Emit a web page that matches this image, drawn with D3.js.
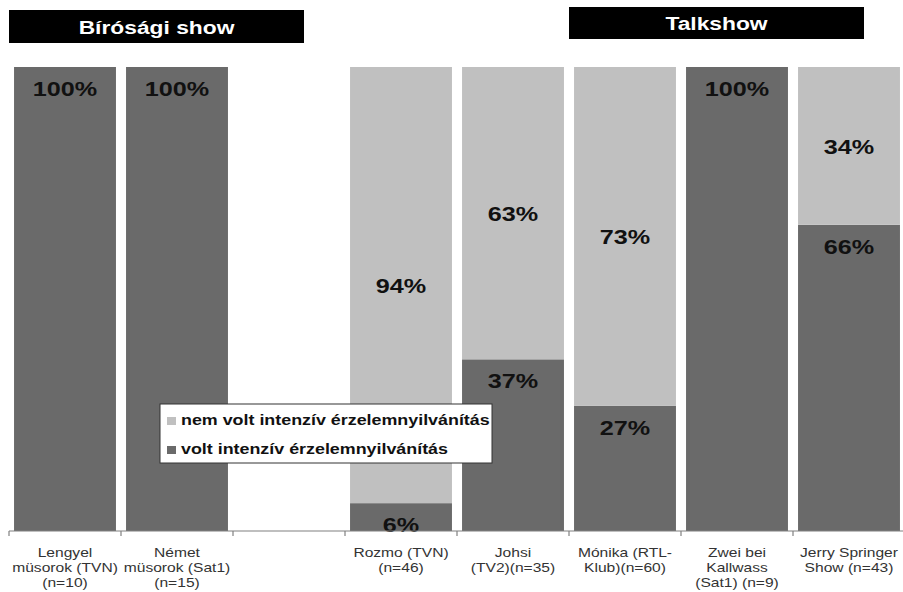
<!DOCTYPE html>
<html><head><meta charset="utf-8">
<script src="https://cdn.jsdelivr.net/npm/d3@7"></script>
<style>body{margin:0;background:#fff}svg{display:block}text{font-family:Arial,"Liberation Sans",sans-serif}</style>
</head><body><svg id="c" width="903" height="592"></svg>
<script>
const categories = ["c1","c2","c3","c4","c5","c6","c7","c8"];
const categoryLabels = [
  ["Lengyel","müsorok (TVN)","(n=10)"],
  ["Német","müsorok (Sat1)","(n=15)"],
  [],
  ["Rozmo (TVN)","(n=46)"],
  ["Johsi","(TV2)(n=35)"],
  ["Mónika (RTL-","Klub)(n=60)"],
  ["Zwei bei","Kallwass","(Sat1) (n=9)"],
  ["Jerry Springer","Show (n=43)"]
];
const voltValues = [100,100,null,6,37,27,100,66];
const nemVoltValues = [0,0,null,94,63,73,0,34];
const seriesNames = ["nem volt intenzív érzelemnyilvánítás","volt intenzív érzelemnyilvánítás"];
const groupTitles = ["Bírósági show","Talkshow"];

const svg = d3.select("#c");
const SX = 1.2;
const dark = "#6a6a6a", light = "#c0c0c0";

const x = d3.scaleBand().domain(categories).range([9,905]).paddingInner(0.09).paddingOuter(0.045);
const y = d3.scaleLinear().domain([0,100]).range([531,67]);

function stext(g, tx, ty, str, size, weight, fill, anchor){
  return g.append("g").attr("transform",`translate(${tx},${ty}) scale(${SX},1)`)
    .append("text").attr("text-anchor",anchor||"middle").attr("font-size",size)
    .attr("font-weight",weight).attr("fill",fill).text(str);
}

// header boxes
const headers = [{t:groupTitles[0],x0:9,x1:304,y0:10,y1:43},{t:groupTitles[1],x0:569,x1:864,y0:7,y1:39}];
headers.forEach(h=>{
  svg.append("rect").attr("x",h.x0).attr("y",h.y0).attr("width",h.x1-h.x0).attr("height",h.y1-h.y0).attr("fill","#000");
  stext(svg,(h.x0+h.x1)/2,(h.y0+h.y1)/2+7,h.t,19,"bold","#fff");
});

// bars
const gb = svg.append("g");
categories.forEach((c,i)=>{
  const v = voltValues[i], n = nemVoltValues[i];
  if(v==null) return;
  const bx = x(c), bw = x.bandwidth();
  gb.append("rect").attr("x",bx).attr("width",bw).attr("y",y(v)).attr("height",y(0)-y(v)).attr("fill",dark);
  if(n>0) gb.append("rect").attr("x",bx).attr("width",bw).attr("y",y(v+n)).attr("height",y(v)-y(v+n)).attr("fill",light);
});
// labels
categories.forEach((c,i)=>{
  const v = voltValues[i], n = nemVoltValues[i];
  if(v==null) return;
  const cx = x(c)+x.bandwidth()/2;
  if(v>0) stext(svg,cx,y(v)+29,v+"%",21,"bold","#111");
  if(n>0) stext(svg,cx,(y(v)+y(v+n))/2+8,n+"%",21,"bold","#111");
});

// axis
const ax = svg.append("g").attr("transform","translate(0,531)");
ax.append("line").attr("x1",9).attr("x2",903).attr("stroke","#808080").attr("stroke-width",1.2);
const step = x.step();
d3.range(categories.length+1).forEach(k=>{
  const tx = 9+k*step;
  ax.append("line").attr("x1",tx).attr("x2",tx).attr("y1",0).attr("y2",5).attr("stroke","#808080").attr("stroke-width",1.2);
});
categories.forEach((c,i)=>{
  const cx = x(c)+x.bandwidth()/2;
  categoryLabels[i].forEach((ln,j)=>{
    stext(svg,cx,557+j*15,ln,13,"normal","#333");
  });
});

// legend
const lg = svg.append("g");
lg.append("rect").attr("x",160).attr("y",404).attr("width",332).attr("height",59).attr("fill","#fff").attr("stroke","#333").attr("stroke-width",1);
[[light,seriesNames[0],425],[dark,seriesNames[1],454]].forEach(([col,name,by])=>{
  lg.append("rect").attr("x",167).attr("y",by-8).attr("width",9).attr("height",8).attr("fill",col);
  stext(lg,181,by,name,14.9,"bold","#111","start");
});
</script></body></html>
